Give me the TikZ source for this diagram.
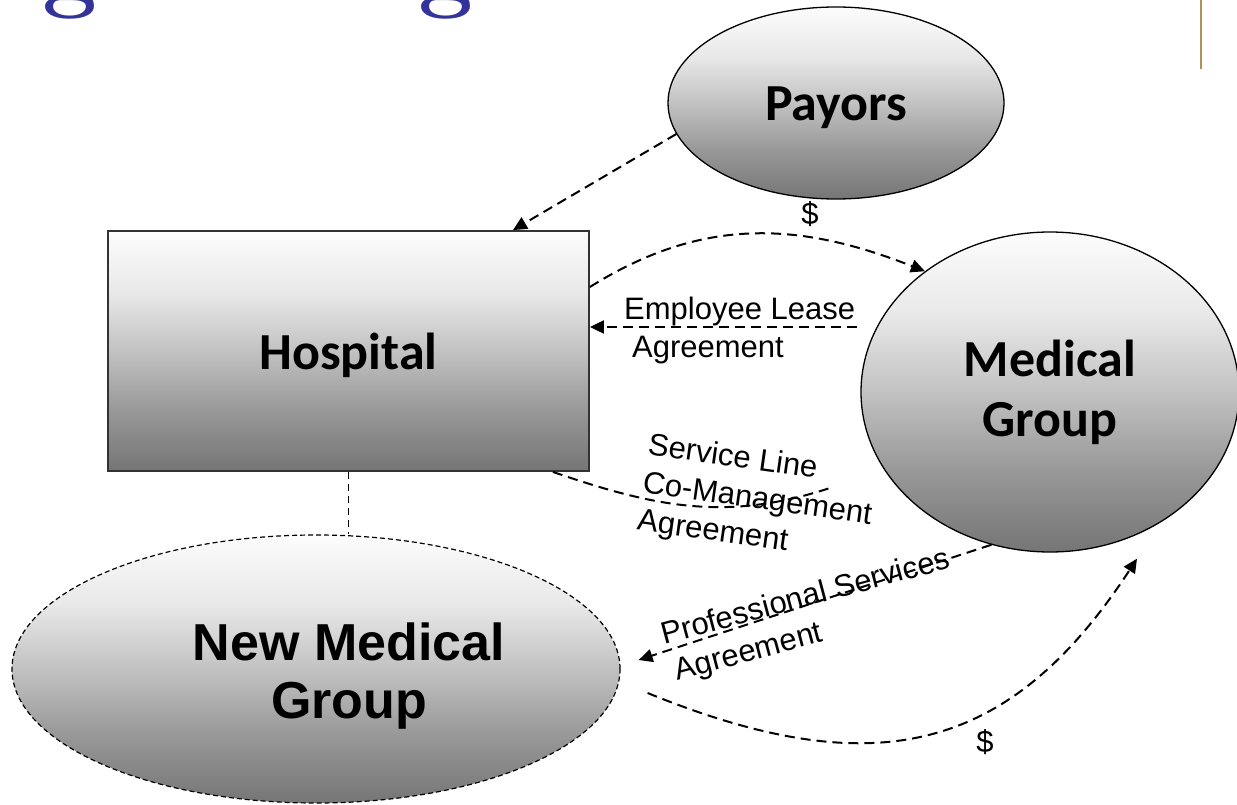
\documentclass[tikz,border=0pt]{standalone}
\usepackage{fontspec}
\setsansfont{Liberation Sans}
\newfontfamily\carlito{Carlito}
\usetikzlibrary{arrows.meta,shapes.geometric}
\definecolor{titleblue}{RGB}{51,51,153}
\definecolor{rulegold}{RGB}{176,146,86}
\colorlet{shadelow}{black!54}
\colorlet{shadeb}{black!40}
\colorlet{shademid}{black!24}
\colorlet{shadec}{black!9}
\colorlet{shadetop}{black!1}
\pgfdeclareverticalshading{boxgrad}{100bp}{color(0bp)=(shadelow); color(25bp)=(shadelow); color(38bp)=(shadeb); color(50bp)=(shademid); color(62bp)=(shadec); color(75bp)=(shadetop); color(100bp)=(shadetop)}
\tikzset{
  entity/.style={draw=black, line width=1.3pt, shade, shading=boxgrad, inner sep=0pt, align=center},
  bigcal/.style={font=\carlito\bfseries\fontsize{52}{60}\selectfont},
  conn/.style={line width=2pt, dash pattern=on 10pt off 6pt},
  arr/.style={-{Triangle[length=14pt,width=13pt]}},
  lbl/.style={font=\sffamily\fontsize{31}{38}\selectfont, align=left, inner sep=0pt},
  titlebit/.style={anchor=base, text=titleblue, font=\bfseries\fontsize{98}{98}\selectfont, inner sep=0pt},
}
\begin{document}
\begin{tikzpicture}[x=1pt, y=-1pt]
	\clip (0,0) rectangle (1237,805);
	\fill[white] (0,0) rectangle (1237,805);
	% what is left of the slide title
	\node[titlebit] (titleg1) at (70,0) {g};
	\node[titlebit] (titleg2) at (446,0) {g};
	\draw[rulegold, line width=2.5pt] (1201,0) -- (1201,69);
	% parties
	\node[entity, ellipse, minimum width=336pt, minimum height=192pt, bigcal, text height=43pt] (payors) at (836,103) {Payors};
	\node[entity, draw=black!80, line width=1.8pt, minimum width=481pt, minimum height=240pt, bigcal, text height=46pt] (hospital) at (348.5,351) {Hospital};
	\node[entity, ellipse, minimum width=378pt, minimum height=320pt, bigcal] (medgroup) at (1050,392) {Medical\\Group};
	\node[entity, ellipse, line width=1.2pt, dash pattern=on 5pt off 3pt, minimum width=608pt, minimum height=268pt] (nmg) at (316,669) {};
	\node[font=\sffamily\bfseries\fontsize{52}{58}\selectfont, align=center] (nmgtext) at (349,676) {New Medical\\Group};
	% agreements and payments
	\draw[conn, arr] (payors.191) -- ([xshift=-77pt]hospital.north east);
	\draw[conn, arr] ([yshift=64pt]hospital.east) .. controls (703,216) and (800,222) .. (medgroup.136);
	\coordinate (leasefrom) at (857,327);
	\draw[conn, arr] (leasefrom) -- ([yshift=24pt]hospital.east);
	\coordinate (cmend) at (830,488);
	\draw[conn] ([xshift=-37pt]hospital.south east) .. controls (655,507) and (726,522) .. (cmend);
	\coordinate (psto) at ([shift={(18pt,9pt)}]nmg.east);
	\draw[conn, arr] (medgroup.249) -- (psto);
	\coordinate (payfrom) at ([shift={(27pt,-24pt)}]nmg.east);
	\draw[conn, arr] (payfrom) .. controls (869,783) and (1007,758) .. ([shift={(87pt,-6pt)}]medgroup.south);
	\draw[line width=1.5pt, dash pattern=on 7pt off 5pt] (hospital.south) -- (hospital.south |- nmg.north);
	\node[lbl] (dollartop) at (810,214) {\$};
	\node[lbl] (dollarbot) at (985,742) {\$};
	\node[lbl, anchor=north west] (leaselbl) at (624,297) {Employee Lease\\\hspace*{8pt}Agreement};
	\node[lbl, rotate=-8, anchor=north west] (cmlbl) at (650,432) {Service Line\\Co-Management\\Agreement};
	\node[lbl, rotate=15, anchor=north west] (pslbl) at (658,623) {Professional Services\\\hspace*{4pt}Agreement};
\end{tikzpicture}
\end{document}
